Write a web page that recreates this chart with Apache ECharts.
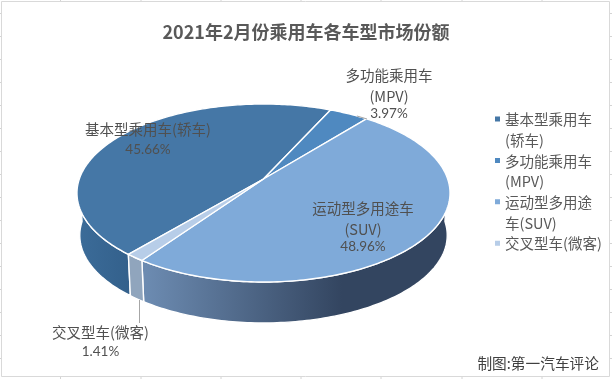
<!DOCTYPE html>
<html><head><meta charset="utf-8">
<style>html,body{margin:0;padding:0;background:#fff}#c{width:612px;height:379px}</style>
<script src="https://cdn.jsdelivr.net/npm/echarts@6/dist/echarts.min.js"></script>
</head><body><div id="c"></div>
<script>
// ---- data ----
const categories = ['基本型乘用车(轿车)', '多功能乘用车(MPV)', '运动型多用途车(SUV)', '交叉型车(微客)'];
const shares = [45.66, 3.97, 48.96, 1.41];
const labelLines = [['基本型乘用车(轿车)'], ['多功能乘用车', '(MPV)'], ['运动型多用途车', '(SUV)'], ['交叉型车(微客)']];
const legendLines = ['基本型乘用车\n(轿车)', '多功能乘用车\n(MPV)', '运动型多用途\n车(SUV)', '交叉型车(微客)\n '];
const titleText = '2021年2月份乘用车各车型市场份额';
const sourceText = '制图:第一汽车评论';

// ---- styling / layout ----
const topColors = ['#4577a6', '#4f89c0', '#7faad9', '#b7cde8'];
const sideFills = [
  [[80, '#3b6b98'], [132, '#33608b']],
  [[0, '#3b6b98'], [1, '#3b6b98']],
  [[146, '#6c8bb1'], [342, '#334560'], [460, '#334560']],
  [[130, '#90a5bd'], [146, '#90a5bd']]
];
const labelAnchors = [[148, 129, 21], [389, 75, 21], [363, 208, 21], [100.5, 332, 20]];
const FONT = '"Noto Sans CJK SC","Noto Sans",sans-serif';
const START = 220.2, CX = 263.5, CY = 179, AX = 184.2, BY = 86.8, K = 0.1573, S = 0.985, CYB = 221.5;

// perspective projection of a rim point, angle clockwise from the far side of the disc
function rim(deg, bottom) {
  const r = deg * Math.PI / 180, u = Math.sin(r), v = -Math.cos(r), w = 1 - K * v;
  const x = AX * u / w, y = BY * v / w;
  return bottom ? [CX + x * S, CYB + y * S] : [CX + x, CY + y];
}
function arcPts(a, b, bottom) {
  const n = Math.max(2, Math.ceil(Math.abs(b - a))), out = [];
  for (let i = 0; i <= n; i++) out.push(rim(a + (b - a) * i / n, bottom));
  return out;
}
const starts = [];
shares.reduce((acc, v, i) => { starts[i] = acc; return acc + v; }, 0);
const total = shares.reduce((a, b) => a + b, 0);
const range = i => {
  const a = START + starts[i] / total * 360;
  return [a, a + shares[i] / total * 360];
};
function gradient(i) {
  const st = sideFills[i], x0 = st[0][0], x1 = st[st.length - 1][0];
  return new echarts.graphic.LinearGradient(x0, 0, x1, 0,
    st.map(s => ({ offset: (s[0] - x0) / (x1 - x0 || 1), color: s[1] })), true);
}

const sideSeries = categories.map((name, i) => ({
  type: 'custom', name: 'side' + i, coordinateSystem: 'none', z: 1, silent: true,
  data: [shares[i]],
  renderItem: () => {
    const [a0, b0] = range(i);
    // only the part of the wall that faces the viewer
    const front = [[90, 270], [450, 630]];
    const parts = [];
    front.forEach(([f0, f1]) => {
      const a = Math.max(a0, f0), b = Math.min(b0, f1);
      if (b > a) parts.push([a, b]);
    });
    return {
      type: 'group', children: parts.map(([a, b]) => ({
        type: 'polygon',
        shape: { points: arcPts(a, b, false).concat(arcPts(b, a, true)) },
        style: { fill: gradient(i), stroke: '#fff', lineWidth: 1.4 }
      }))
    };
  }
}));

const topSeries = categories.map((name, i) => ({
  type: 'custom', name, coordinateSystem: 'none', z: 2,
  itemStyle: { color: topColors[i] },
  data: [shares[i]],
  renderItem: (p, api) => {
    const [a, b] = range(i), share = api.value(0);
    const [lx, ly, gap] = labelAnchors[i];
    const lines = labelLines[i].concat([share.toFixed(2) + '%']);
    const children = [{
      type: 'polygon',
      shape: { points: [[CX, CY]].concat(arcPts(a, b, false)) },
      style: { fill: topColors[i], stroke: '#fff', lineWidth: 1.4, lineJoin: 'round' }
    }];
    lines.forEach((t, j) => {
      const isPct = j === lines.length - 1;
      children.push({
        type: 'text', z2: 10,
        style: {
          x: lx, y: ly + j * gap - (j === 2 ? 3 : 0), text: t, align: 'center', verticalAlign: 'middle',
          fill: '#505050', font: isPct ? '13.5px Lato,' + FONT : '14.5px ' + FONT
        }
      });
    });
    return { type: 'group', children };
  }
}));

// spreadsheet gridline stubs around the chart frame and the frame itself
const stubs = [];
[60.5, 141, 221, 301, 381, 462, 542].forEach(x => {
  stubs.push({ type: 'line', shape: { x1: x, y1: 0, x2: x, y2: 1 } });
  stubs.push({ type: 'line', shape: { x1: x, y1: 377, x2: x, y2: 379 } });
});
for (let y = 13.5; y < 370; y += 23) {
  stubs.push({ type: 'line', shape: { x1: 0, y1: y, x2: 1, y2: y } });
  stubs.push({ type: 'line', shape: { x1: 610, y1: y, x2: 612, y2: y } });
}
const graphics = stubs.map(s => Object.assign(s, { silent: true, style: { stroke: '#d4d4d4', lineWidth: 1 } }));
graphics.push({ type: 'rect', silent: true, shape: { x: 1.5, y: 1.5, width: 608, height: 375 },
  style: { fill: 'none', stroke: '#d9d9d9', lineWidth: 1 } });
graphics.push({ type: 'polyline', silent: true, z: 5, shape: { points: [[139.5, 300], [139.5, 323]] },
  style: { fill: 'none', stroke: '#a6a6a6', lineWidth: 1 } });
graphics.push({ type: 'polyline', silent: true, z: 5, shape: { points: [[357, 116], [367, 119]] },
  style: { fill: 'none', stroke: '#a6a6a6', lineWidth: 1 } });
graphics.push({ type: 'text', silent: true, style: { x: 599, y: 363, text: sourceText, align: 'right',
  verticalAlign: 'middle', fill: '#404040', font: '14.7px ' + FONT } });

const chart = echarts.init(document.getElementById('c'), null, { renderer: 'canvas' });
chart.setOption({
  animation: false,
  backgroundColor: '#fff',
  title: {
    text: titleText, left: 301, top: 18.5, textAlign: 'center',
    textStyle: { color: '#595959', fontSize: 18, fontWeight: 'bold', fontFamily: FONT }
  },
  legend: {
    left: 495, top: 109.5, padding: 0, orient: 'vertical', selectedMode: false,
    data: categories,
    itemWidth: 5, itemHeight: 27, itemGap: 0.4,
    icon: 'path://M0 0H5V5H0Z M0 27H5V27H0Z',
    formatter: n => legendLines[categories.indexOf(n)],
    textStyle: { color: '#595959', fontSize: 14.5, lineHeight: 20.5, fontFamily: FONT }
  },
  series: sideSeries.concat(topSeries),
  graphic: graphics
});
</script></body></html>
